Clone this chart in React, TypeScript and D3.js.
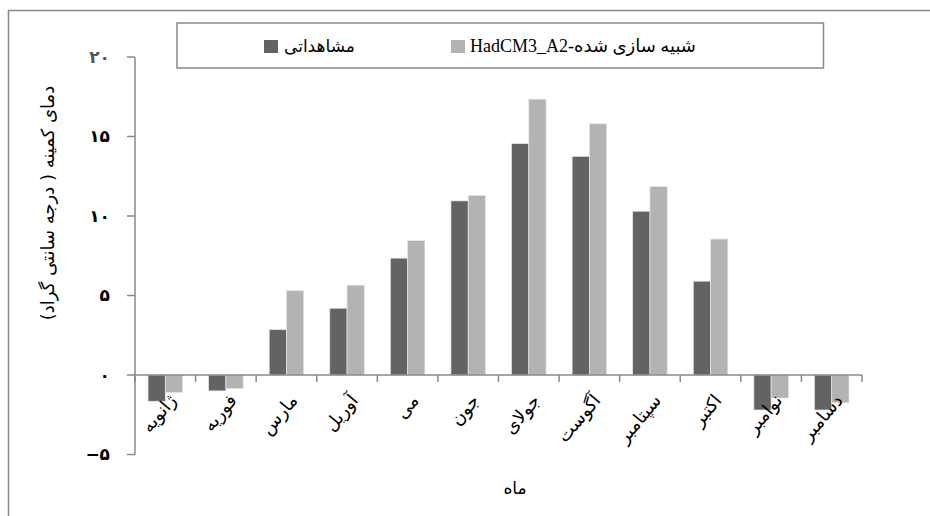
import React from "react";
import * as d3 from "d3";

const months = ["ژانویه", "فوریه", "مارس", "آوریل", "می", "جون", "جولای", "آگوست", "سپتامبر", "اکتبر", "نوامبر", "دسامبر"];
const observed = [-1.65, -1.0, 2.85, 4.2, 7.35, 10.95, 14.55, 13.75, 10.3, 5.9, -2.2, -2.2];
const simulated = [-1.1, -0.85, 5.3, 5.65, 8.45, 11.3, 17.35, 15.8, 11.85, 8.55, -1.45, -1.75];
const seriesNames = ["مشاهداتی", "HadCM3_A2-شبیه سازی شده"];
const seriesColors = ["#636363", "#b3b3b3"];
const yTicks = [-5, 0, 5, 10, 15, 20];
const yTickLabels = ["−۵", "۰", "۵", "۱۰", "۱۵", "۲۰"];
const yTitle = "دمای کمینه ( درجه سانتی گراد)";
const xTitle = "ماه";

const W = 930;
const H = 516;
const left = 135;
const right = 862;
const axisColor = "#898989";
const font = "'Liberation Serif', 'DejaVu Sans', serif";
const arFont = "'DejaVu Sans', sans-serif";

export default function App() {
  const y = d3.scaleLinear().domain([-5, 20]).range([454.5, 57]);
  const x0 = d3.scaleBand<string>().domain(months).range([left, right]).paddingInner(0.43).paddingOuter(0.215);
  const x1 = d3.scaleBand<number>().domain([0, 1]).range([0, x0.bandwidth()]);
  const step = x0.step();
  const y0 = y(0);
  const data = [observed, simulated];

  return (
    <svg width={W} height={H} style={{ position: "absolute", left: 0, top: 0, background: "#fff" }}>
      {/* outer frame */}
      <rect x={8.5} y={10.5} width={W + 10} height={H + 10} fill="none" stroke={axisColor} strokeWidth={1.5} />

      {/* bars */}
      {months.map((m, i) => (
        <g key={m} transform={`translate(${x0(m)},0)`}>
          {data.map((s, j) => {
            const v = s[i];
            const yy = v >= 0 ? y(v) : y0;
            const h = Math.abs(y(v) - y0);
            return (
              <rect key={j} x={x1(j)} y={yy} width={x1.bandwidth()} height={h} fill={seriesColors[j]} stroke="#e6e6e6" strokeWidth={0.7} />
            );
          })}
        </g>
      ))}

      {/* y axis */}
      <line x1={left} x2={left} y1={y(20)} y2={y(-5)} stroke={axisColor} strokeWidth={1.5} />
      {yTicks.map((t, i) => (
        <g key={t}>
          <line x1={left - 8} x2={left} y1={y(t)} y2={y(t)} stroke={axisColor} strokeWidth={1.5} />
          <text x={110} y={y(t)} dy="0.35em" textAnchor="end" fontFamily={arFont} fontWeight="bold" fontSize={17} fill={t === 20 ? "#555" : "#000"}>
            {yTickLabels[i]}
          </text>
        </g>
      ))}

      {/* x axis */}
      <line x1={left} x2={right} y1={y0} y2={y0} stroke={axisColor} strokeWidth={1.5} />
      {d3.range(13).map((k) => (
        <line key={k} x1={left + k * step} x2={left + k * step} y1={y0} y2={y0 + 7} stroke={axisColor} strokeWidth={1.5} />
      ))}
      {months.map((m) => {
        const cx = (x0(m) as number) + x0.bandwidth() / 2;
        return (
          <text
            key={m}
            transform={`translate(${cx + 12},${y0 + 26}) rotate(-50)`}
            textAnchor="end"
            fontFamily={arFont}
            fontSize={18}
            fill="#000"
          >
            {m}
          </text>
        );
      })}

      {/* axis titles */}
      <text transform={`translate(54,${203}) rotate(-90)`} textAnchor="middle" fontFamily={arFont} fontSize={18} fill="#000">
        {yTitle}
      </text>
      <text x={515} y={494} textAnchor="middle" fontFamily={arFont} fontSize={17} fill="#000">
        {xTitle}
      </text>

      {/* legend */}
      <rect x={177} y={23} width={646.5} height={45} fill="#fff" stroke={axisColor} strokeWidth={1.5} />
      <rect x={264} y={40} width={14} height={13} fill={seriesColors[0]} />
      <text x={284} y={52} fontFamily={arFont} fontSize={17} fill="#000">
        {seriesNames[0]}
      </text>
      <rect x={451} y={40} width={14} height={13} fill={seriesColors[1]} />
      <text x={470} y={52} fontFamily={font} fontSize={18} fill="#000">
        {seriesNames[1]}
      </text>
    </svg>
  );
}
